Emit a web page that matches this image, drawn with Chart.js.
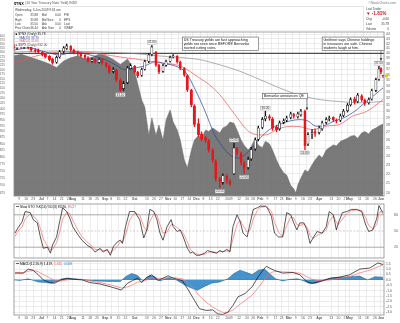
<!DOCTYPE html>
<html>
<head>
    <title>$TNX</title>
    <meta charset="UTF-8">
    <style>
        body { margin: 0; background: #ffffff; }
        .chart-stack { position: relative; width: 400px; height: 323px; }
        .chart-stack canvas { position: absolute; left: 0; }
    </style>
    <script src="https://cdn.jsdelivr.net/npm/chart.js"></script>
</head>
<body>
<div class="chart-stack">
    <canvas id="priceChart" width="400" height="203" style="top:0px"></canvas>
    <canvas id="stoChart" width="400" height="57" style="top:203px"></canvas>
    <canvas id="macdChart" width="400" height="63" style="top:260px"></canvas>
</div>
<script>
// all days are calendar days counted from 2-Jun-2008
const tickDays = [7, 14, 21, 29, 35, 42, 49, 56, 60, 70, 77, 84, 92, 98, 105, 112, 121, 133, 140, 147, 154, 161, 168, 175, 182, 189, 196, 203, 214, 224, 232, 238, 245, 252, 260, 266, 273, 280, 287, 294, 303, 315, 322, 329, 333, 343, 350, 358, 364];
const tickLabels = ['9', '16', '23', 'Jul', '7', '14', '21', '28', 'Aug', '11', '18', '25', 'Sep', '8', '15', '22', 'Oct', '13', '20', '27', 'Nov', '10', '17', '24', 'Dec', '8', '15', '22', '2009', '12', '20', '26', 'Feb', '9', '17', '23', 'Mar', '9', '16', '23', 'Apr', '13', '20', '27', 'May', '11', '18', '26', 'Jun'];

// $TNX candles (yield x 10)
const candleDays = [2, 5, 9, 12, 16, 19, 23, 26, 30, 33, 37, 40, 44, 47, 51, 54, 58, 61, 65, 68, 72, 75, 79, 82, 86, 89, 93, 96, 100, 103, 107, 110, 114, 117, 121, 124, 128, 131, 135, 138, 142, 145, 149, 152, 156, 159, 163, 166, 170, 173, 177, 180, 184, 187, 191, 194, 198, 201, 205, 208, 212, 215, 219, 222, 226, 229, 233, 236, 240, 243, 247, 250, 254, 257, 261, 264, 268, 271, 275, 278, 282, 285, 289, 292, 296, 299, 303, 306, 310, 313, 317, 320, 324, 327, 331, 334, 338, 341, 345, 348, 352, 355, 359, 362, 364, 366];
const candleOpen = [41.5, 41.1, 41.6, 41.2, 41.8, 41.2, 40.6, 40.6, 40.2, 39.8, 39.4, 38.9, 38.3, 39.3, 40.4, 41.0, 41.4, 40.6, 40.2, 39.8, 39.6, 39.1, 38.5, 38.9, 38.3, 38.9, 38.1, 37.5, 36.6, 36.8, 35.0, 33.6, 34.6, 37.1, 37.5, 36.4, 35.9, 37.0, 38.5, 39.8, 40.2, 37.7, 36.6, 37.7, 38.5, 39.3, 39.4, 38.3, 37.1, 35.8, 33.3, 30.8, 28.2, 26.8, 26.3, 25.9, 24.7, 23.4, 21.4, 21.1, 21.7, 21.2, 22.0, 24.9, 24.3, 23.2, 22.7, 23.7, 24.9, 26.1, 27.7, 28.9, 29.2, 28.9, 27.7, 27.5, 28.4, 28.7, 29.1, 29.5, 29.2, 29.5, 30.0, 25.5, 26.8, 27.1, 27.0, 27.5, 28.4, 28.9, 29.1, 28.7, 28.7, 29.4, 30.1, 31.0, 31.9, 31.5, 32.4, 31.7, 31.3, 31.9, 33.3, 35.2, 37.1, 35.88];
const candleHigh = [41.8, 41.9, 42.0, 42.1, 42.0, 41.4, 41.0, 40.9, 40.4, 40.0, 39.6, 39.1, 39.5, 40.6, 41.4, 41.9, 41.6, 40.9, 40.5, 40.1, 39.8, 39.4, 39.1, 39.0, 39.0, 39.0, 38.3, 37.8, 37.3, 37.0, 35.3, 34.8, 37.5, 38.0, 37.7, 36.6, 37.2, 38.7, 40.0, 41.6, 40.4, 37.9, 37.9, 38.7, 39.5, 39.8, 39.6, 38.5, 37.3, 36.0, 33.5, 31.0, 28.9, 27.1, 26.5, 26.1, 24.9, 23.6, 21.6, 22.0, 21.9, 21.4, 25.6, 25.1, 24.5, 23.4, 23.9, 25.1, 26.3, 27.9, 29.1, 30.0, 29.5, 29.1, 28.0, 28.6, 28.9, 29.3, 29.9, 29.7, 29.9, 30.3, 30.2, 27.0, 27.4, 27.5, 27.9, 28.6, 29.1, 29.3, 29.2, 28.9, 29.6, 30.3, 31.2, 32.1, 32.2, 32.8, 32.6, 31.9, 32.1, 33.5, 35.4, 37.5, 37.3, 35.88];
const candleLow = [40.9, 40.8, 41.0, 41.0, 40.9, 40.4, 40.2, 40.0, 39.5, 39.1, 38.5, 37.9, 38.1, 39.1, 40.1, 40.8, 40.4, 39.9, 39.6, 39.2, 38.9, 38.3, 38.3, 38.1, 38.1, 37.9, 37.3, 36.2, 36.3, 34.8, 33.1, 33.3, 34.4, 37.0, 36.2, 35.5, 35.7, 36.8, 38.2, 39.5, 37.5, 36.2, 36.4, 37.5, 38.3, 39.1, 38.1, 36.9, 35.7, 33.1, 30.7, 27.8, 26.5, 25.9, 25.7, 24.5, 23.3, 21.2, 20.5, 20.9, 21.0, 20.8, 21.9, 24.1, 23.0, 22.0, 22.5, 23.5, 24.7, 25.9, 27.5, 28.6, 28.7, 27.3, 27.1, 27.3, 28.2, 28.5, 28.9, 29.0, 29.0, 29.3, 24.8, 25.3, 26.2, 26.5, 26.8, 27.3, 28.2, 28.6, 28.5, 28.3, 28.5, 29.2, 29.9, 30.8, 31.1, 31.3, 31.5, 30.9, 31.1, 31.7, 33.1, 35.0, 36.2, 35.50];
const candleClose = [41.1, 41.5, 41.3, 41.7, 41.1, 40.7, 40.5, 40.3, 39.7, 39.3, 38.8, 38.2, 39.2, 40.3, 41.1, 41.5, 40.7, 40.1, 39.9, 39.5, 39.2, 38.6, 38.8, 38.4, 38.8, 38.2, 37.6, 36.5, 36.9, 35.1, 33.4, 34.4, 37.2, 37.6, 36.5, 35.8, 36.9, 38.4, 39.7, 41.3, 37.8, 36.5, 37.6, 38.4, 39.2, 39.5, 38.4, 37.2, 36.0, 33.4, 31.0, 28.1, 26.7, 26.2, 26.0, 24.8, 23.6, 21.5, 21.2, 21.8, 21.3, 20.9, 25.0, 24.4, 23.3, 22.6, 23.6, 24.8, 26.0, 27.6, 28.8, 29.3, 29.0, 27.6, 27.4, 28.3, 28.6, 29.0, 29.6, 29.3, 29.6, 30.0, 25.3, 26.7, 27.0, 26.9, 27.6, 28.3, 28.8, 29.0, 28.8, 28.6, 29.3, 30.0, 30.9, 31.8, 31.4, 32.5, 31.8, 31.2, 31.8, 33.2, 35.1, 37.0, 36.5, 35.78];

// moving averages
const ma20Days = [2, 18, 33, 47, 62, 77, 92, 102, 111, 121, 131, 141, 151, 161, 171, 180, 190, 200, 210, 217, 225, 235, 245, 254, 264, 274, 284, 292, 299, 309, 318, 328, 338, 348, 358, 366];
const ma20Vals = [40.7, 41.1, 40.3, 39.7, 40.3, 39.7, 38.8, 37.8, 36.9, 37.2, 37.6, 38.4, 38.0, 37.6, 36.5, 33.7, 30.2, 26.7, 24.8, 24.0, 23.8, 24.8, 26.3, 27.4, 28.1, 28.6, 28.8, 28.6, 27.9, 28.0, 28.6, 29.1, 30.0, 31.3, 32.6, 33.7];
const ma50Days = [2, 18, 33, 47, 67, 87, 107, 126, 146, 166, 185, 195, 205, 218, 235, 251, 261, 271, 284, 297, 311, 323, 336, 350, 366];
const ma50Vals = [38.2, 39.2, 39.9, 40.3, 40.3, 39.9, 39.3, 38.8, 38.2, 37.6, 35.4, 34.2, 32.6, 29.9, 27.0, 26.7, 27.4, 27.8, 27.8, 27.4, 27.9, 28.1, 29.3, 30.0, 31.8];
const ma200Days = [2, 47, 87, 126, 146, 166, 185, 205, 225, 245, 264, 284, 304, 323, 343, 366];
const ma200Vals = [40.3, 40.5, 40.3, 39.9, 39.5, 39.2, 38.8, 37.8, 36.6, 35.1, 33.7, 32.5, 31.8, 31.5, 31.3, 31.5];
const refLevel = 40;

// $SPX overlay (left scale)
const spxDays = [2, 9, 16, 23, 30, 37, 44, 51, 58, 65, 72, 79, 86, 93, 100, 107, 114, 121, 128, 131, 135, 138, 142, 145, 149, 152, 156, 159, 163, 166, 170, 173, 177, 180, 184, 187, 191, 194, 198, 201, 205, 208, 212, 215, 219, 222, 226, 229, 233, 236, 240, 243, 247, 250, 254, 257, 261, 264, 268, 271, 275, 278, 280, 282, 285, 289, 292, 296, 299, 303, 306, 310, 313, 317, 320, 324, 327, 331, 334, 338, 341, 345, 348, 352, 355, 359, 362, 366];
const spxVals = [1280, 1290, 1276, 1262, 1248, 1232, 1212, 1250, 1268, 1280, 1262, 1272, 1290, 1280, 1258, 1230, 1262, 1190, 1042, 1009, 884, 959, 884, 928, 865, 950, 995, 941, 907, 865, 789, 760, 826, 865, 884, 872, 907, 900, 915, 907, 894, 915, 924, 941, 935, 907, 865, 845, 826, 840, 872, 845, 835, 860, 850, 826, 789, 765, 743, 735, 700, 690, 676, 702, 725, 753, 746, 771, 789, 807, 796, 826, 835, 846, 842, 860, 865, 872, 881, 884, 872, 894, 900, 890, 907, 915, 924, 932];

const yieldTicks = [20, 21, 22, 23, 24, 25, 26, 27, 28, 29, 30, 31, 32, 33, 34, 35, 36, 37, 38, 39, 40, 41, 42, 43, 44];
const spxTicks = [675, 700, 725, 750, 775, 800, 825, 850, 875, 900, 925, 950, 975, 1000, 1025, 1050, 1075, 1100, 1125, 1150, 1175, 1200, 1225, 1250, 1275, 1300, 1325, 1350, 1375, 1400];

// slow stochastics
const stoDays = [3, 6, 10, 13, 18, 21, 25, 28, 31, 35, 38, 40, 44, 47, 50, 54, 57, 60, 65, 69, 74, 79, 82, 87, 90, 94, 97, 100, 104, 107, 109, 112, 116, 121, 126, 130, 133, 136, 140, 143, 146, 149, 153, 157, 159, 163, 166, 169, 173, 176, 178, 182, 185, 190, 193, 197, 202, 205, 208, 212, 215, 218, 222, 225, 228, 232, 235, 238, 242, 245, 250, 252, 256, 259, 263, 267, 271, 275, 278, 281, 284, 288, 291, 294, 297, 301, 306, 310, 313, 317, 320, 322, 326, 330, 335, 340, 345, 349, 352, 356, 360, 362, 364, 366];
const stoK = [46, 56, 67, 86, 84, 71, 65, 39, 18, 20, 9, 24, 39, 67, 93, 86, 74, 58, 43, 33, 24, 18, 11, 18, 11, 16, 5, 21, 30, 33, 27, 58, 86, 86, 71, 37, 52, 90, 86, 71, 46, 33, 58, 71, 58, 49, 52, 39, 18, 9, 11, 5, 5, 9, 14, 11, 9, 14, 11, 16, 11, 58, 80, 68, 46, 39, 65, 90, 93, 96, 96, 93, 77, 46, 39, 39, 84, 80, 65, 52, 65, 65, 52, 27, 37, 49, 46, 58, 86, 80, 52, 65, 84, 86, 90, 90, 86, 61, 49, 52, 74, 97, 90, 83.9];
const stoD = [40, 50, 58, 72, 82, 78, 70, 55, 35, 22, 15, 16, 28, 48, 72, 85, 82, 70, 52, 40, 30, 22, 16, 15, 14, 14, 10, 14, 22, 30, 30, 42, 70, 84, 80, 58, 50, 68, 82, 80, 62, 46, 48, 62, 62, 56, 52, 46, 30, 16, 12, 8, 6, 7, 10, 12, 10, 12, 12, 13, 13, 35, 62, 70, 60, 48, 52, 72, 88, 94, 95, 94, 86, 66, 48, 40, 60, 76, 74, 62, 60, 63, 58, 42, 36, 42, 46, 52, 68, 78, 66, 62, 72, 82, 88, 89, 88, 74, 60, 54, 62, 82, 87, 80.27];
const stoLevels = [20, 50, 80];

// MACD(12,26,9)
const macdDays = [3, 11, 16, 21, 26, 31, 37, 42, 47, 54, 60, 69, 77, 87, 97, 108, 114, 119, 124, 128, 133, 138, 144, 149, 154, 159, 168, 174, 180, 185, 192, 198, 203, 208, 213, 218, 223, 230, 237, 243, 248, 251, 254, 259, 267, 277, 284, 291, 296, 304, 314, 323, 333, 343, 353, 361, 366];
const macdLine = [0.63, 0.63, 1.0, 0.88, 0.47, 0.0, -0.25, -0.31, -0.06, 0.16, 0.06, 0.0, -0.25, -0.38, -0.63, -0.94, -0.31, -0.06, 0.16, -0.25, 0.25, 0.47, -0.06, 0.16, 0.38, 0.16, -0.06, -0.94, -1.89, -2.67, -2.83, -2.77, -3.15, -3.2, -2.99, -2.36, -1.57, -1.26, -0.63, 0.31, 0.94, 1.26, 1.1, 0.88, 0.63, 0.69, 0.47, -0.16, -0.31, -0.16, 0.16, 0.25, 0.47, 1.0, 1.1, 1.57, 1.42];
const macdSignal = [0.7, 0.65, 0.8, 0.88, 0.75, 0.5, 0.2, -0.05, -0.12, 0.0, 0.05, 0.05, -0.1, -0.25, -0.45, -0.75, -0.65, -0.45, -0.2, -0.15, 0.0, 0.2, 0.15, 0.12, 0.22, 0.22, 0.1, -0.3, -0.9, -1.5, -2.1, -2.5, -2.8, -3.0, -3.0, -2.8, -2.4, -1.9, -1.4, -0.7, -0.1, 0.3, 0.6, 0.8, 0.75, 0.7, 0.62, 0.3, 0.05, -0.1, 0.0, 0.15, 0.3, 0.65, 0.9, 1.2, 1.41];
const histDays = [2, 8, 16, 26, 33, 39, 44, 49, 57, 67, 82, 97, 107, 112, 118, 124, 129, 136, 141, 146, 154, 162, 171, 178, 183, 190, 197, 205, 213, 219, 225, 231, 237, 243, 249, 254, 260, 267, 274, 282, 288, 294, 300, 306, 314, 323, 333, 343, 351, 358, 366];
const histVals = [0.0, -0.05, 0.1, -0.2, -0.25, -0.3, -0.15, 0.1, 0.15, 0.05, -0.1, -0.15, -0.15, 0.3, 0.6, 0.4, -0.1, 0.4, 0.3, -0.1, 0.2, 0.0, -0.5, -0.8, -0.95, -0.6, -0.3, -0.2, 0.1, 0.6, 0.9, 0.7, 0.5, 0.9, 1.0, 0.6, 0.1, -0.1, 0.05, 0.1, -0.1, -0.35, -0.3, -0.05, 0.15, 0.25, 0.3, 0.35, 0.0, 0.3, 0.25];
const macdTicks = [-3.0, -2.5, -2.0, -1.5, -1.0, -0.5, 0.0, 0.5, 1.0, 1.5];

// quote header
const quoteStamp = 'Wednesday, 3-Jun-2009 9:34 am';
const quoteRows = [
    ['Open', '35.88', 'Bid', '0.00', 'P/E'],
    ['High', '35.88', 'Bid Size', '0', 'EPS'],
    ['Low', '35.50', 'Ask', '0.00', 'Last'],
    ['Prev Close', '36.44', 'Ask Size', '0', 'VWAP']
];
const lastTrade = [['Chg', '-0.66'], ['Last', '35.78'], ['Volume', '0']];

// labelled highs / lows (candle index, above?)
const markIdx = [30, 39, 58, 62, 65, 71, 82, 103];
const markAbove = [false, true, false, true, false, true, false, true];

const notes = [
    { day: 168, level: 43.4, w: 76, lines: ['US Treasury yields are fast approaching', 'yields not seen since BEFORE Bernanke', 'started cutting rates.'] },
    { day: 306, level: 43.4, w: 62, lines: ['Geithner says Chinese holdings', 'in treasuries are safe. Chinese', 'students laugh at him.'], arrowDay: 364, arrowTo: 38.6 },
    { day: 247, level: 32.8, w: 45, lines: ['Bernanke announces QE'], arrowDay: 291, arrowTo: 30.2 }
];

const FONT = '"Liberation Sans", Arial, sans-serif';
const xMin = 2, xMax = 367;

Chart.defaults.font.family = FONT;
Chart.defaults.font.size = 3.4;
Chart.defaults.color = '#555';
Chart.defaults.animation = false;
Chart.defaults.plugins.legend.display = false;
Chart.defaults.plugins.tooltip.enabled = false;

function pts(days, vals) {
    return days.map((d, i) => ({ x: d, y: vals[i] }));
}

function candleColor(i) {
    const prev = i > 0 ? candleClose[i - 1] : candleOpen[i];
    return candleClose[i] < prev ? '#e8161b' : '#111111';
}

function dateAxis(labelHeight) {
    return {
        type: 'linear', min: xMin, max: xMax, offset: false,
        afterBuildTicks: s => { s.ticks = tickDays.map(v => ({ value: v })); },
        ticks: {
            display: labelHeight > 0, autoSkip: false, maxRotation: 0, padding: 1.5,
            font: c => ({ family: FONT, size: 3.4, weight: /^\d+$/.test(tickLabels[c.index]) ? 'normal' : 'bold' }),
            callback: (v, i) => tickLabels[i]
        },
        grid: { color: '#e1e1e1', lineWidth: 0.6, drawTicks: false },
        border: { display: false },
        afterFit: s => { s.height = labelHeight; s.paddingLeft = 0; s.paddingRight = 0; }
    };
}

function rightAxis(extra) {
    return Object.assign({
        position: 'right',
        ticks: { autoSkip: false, padding: 2 },
        grid: { color: '#e1e1e1', lineWidth: 0.6, drawTicks: false },
        border: { display: false },
        afterFit: s => { s.width = 16; s.paddingTop = 0; s.paddingBottom = 0; }
    }, extra);
}

function drawText(ctx, parts, x, y) {
    parts.forEach(p => {
        ctx.fillStyle = p[1];
        ctx.fillText(p[0], x, y);
        x += ctx.measureText(p[0]).width;
    });
}

function panelFrame(legendParts) {
    return {
        id: 'panelFrame',
        afterDraw(chart) {
            const { ctx, chartArea: a } = chart;
            ctx.save();
            ctx.strokeStyle = '#8c8c8c';
            ctx.lineWidth = 0.8;
            ctx.strokeRect(a.left, a.top, a.right - a.left, a.bottom - a.top);
            if (legendParts) {
                ctx.font = '3.3px ' + FONT;
                ctx.textBaseline = 'middle';
                ctx.fillStyle = '#000';
                ctx.fillRect(a.left + 2, a.top + 2.3, 3, 0.6);
                drawText(ctx, legendParts, a.left + 6, a.top + 2.6);
            }
            ctx.restore();
        }
    };
}

const priceDecor = {
    id: 'priceDecor',
    afterDraw(chart) {
        const { ctx, chartArea: a, scales } = chart;
        const xs = scales.x, ys = scales.y;
        ctx.save();
        ctx.textBaseline = 'middle';

        // title line
        ctx.font = 'bold 3.8px ' + FONT;
        ctx.fillStyle = '#000';
        ctx.fillText('$TNX', 14, 3.5);
        const tw = ctx.measureText('$TNX').width + 1.5;
        ctx.font = '3.3px ' + FONT;
        ctx.fillStyle = '#555';
        ctx.fillText('(10 Year Treasury Note Yield) INDX', 14 + tw, 3.5);
        ctx.textAlign = 'right';
        ctx.fillStyle = '#777';
        ctx.fillText('\u00A9StockCharts.com', 396, 3.5);

        // quote box
        ctx.strokeStyle = '#d4d4d4';
        ctx.lineWidth = 0.6;
        ctx.strokeRect(13.5, 6.5, 350, 24.5);
        ctx.fillStyle = '#444';
        ctx.textAlign = 'left';
        ctx.font = '3.1px ' + FONT;
        ctx.fillText(quoteStamp, 15, 10.5);
        quoteRows.forEach((r, i) => {
            const y = 15.4 + i * 4.3;
            ctx.textAlign = 'left';
            ctx.fillText(r[0], 15, y);
            ctx.fillText(r[2], 42, y);
            ctx.fillText(r[4], 64, y);
            ctx.textAlign = 'right';
            ctx.fillText(r[1], 38, y);
            ctx.fillText(r[3], 61, y);
        });

        // last trade block
        ctx.textAlign = 'left';
        ctx.fillText('Last Trade:', 366, 9);
        ctx.font = 'bold 4.6px ' + FONT;
        ctx.fillStyle = '#d0101a';
        ctx.fillText('\u25BC -1.81%', 366, 14);
        ctx.font = '3.1px ' + FONT;
        ctx.fillStyle = '#444';
        lastTrade.forEach((r, i) => {
            const y = 19.5 + i * 4.6;
            ctx.textAlign = 'left';
            ctx.fillText(r[0], 366, y);
            ctx.textAlign = 'right';
            ctx.fillText(r[1], 389, y);
        });

        // legend
        ctx.textAlign = 'left';
        ctx.font = '3.2px ' + FONT;
        const last = candleClose.length - 1;
        const legend = [
            ['\u25A0', '#000', '$TNX (Daily) ' + candleClose[last].toFixed(2), '#000'],
            ['\u2014', '#2b3f9e', 'MA(20) ' + ma20Vals[ma20Vals.length - 1].toFixed(2), '#2b3f9e'],
            ['\u2014', '#ef5350', 'MA(50) ' + ma50Vals[ma50Vals.length - 1].toFixed(2), '#ef5350'],
            ['\u25A0', '#777', '$SPX (Daily) ' + spxVals[spxVals.length - 1].toFixed(2), '#444']
        ];
        legend.forEach((l, i) => {
            const y = a.top + 2.4 + i * 3.6;
            ctx.fillStyle = '#ffffff';
            ctx.fillRect(a.left + 1, y - 1.7, ctx.measureText(l[0] + ' ' + l[2]).width + 1, 3.4);
            drawText(ctx, [[l[0] + ' ', l[1]], [l[2], l[3]]], a.left + 1.5, y);
        });

        // labelled highs and lows
        ctx.font = '3.1px ' + FONT;
        ctx.textAlign = 'center';
        markIdx.forEach((k, i) => {
            const val = markAbove[i] ? candleHigh[k] : candleLow[k];
            const txt = val.toFixed(2);
            const px = xs.getPixelForValue(candleDays[k]);
            const py = ys.getPixelForValue(val) + (markAbove[i] ? -3.2 : 3.2);
            const w = ctx.measureText(txt).width + 1.6;
            ctx.fillStyle = '#f4f4f4';
            ctx.fillRect(px - w / 2, py - 1.9, w, 3.8);
            ctx.strokeStyle = '#9a9a9a';
            ctx.lineWidth = 0.4;
            ctx.strokeRect(px - w / 2, py - 1.9, w, 3.8);
            ctx.fillStyle = '#444';
            ctx.fillText(txt, px, py);
        });

        // note boxes
        ctx.textAlign = 'left';
        ctx.font = '3.6px ' + FONT;
        notes.forEach(n => {
            const bx = xs.getPixelForValue(n.day);
            const by = ys.getPixelForValue(n.level);
            const h = n.lines.length * 4 + 1.4;
            ctx.fillStyle = '#ffffff';
            ctx.fillRect(bx, by, n.w, h);
            ctx.strokeStyle = '#555';
            ctx.lineWidth = 0.6;
            ctx.strokeRect(bx, by, n.w, h);
            ctx.fillStyle = '#111';
            n.lines.forEach((t, j) => ctx.fillText(t, bx + 1.4, by + 2.7 + j * 4));
            if (n.arrowDay !== undefined) {
                const ax = xs.getPixelForValue(n.arrowDay);
                const ay = ys.getPixelForValue(n.arrowTo);
                ctx.strokeStyle = '#333';
                ctx.beginPath();
                ctx.moveTo(ax, by + h);
                ctx.lineTo(ax, ay);
                ctx.stroke();
                ctx.fillStyle = '#333';
                ctx.beginPath();
                ctx.moveTo(ax - 1.3, ay - 2.5);
                ctx.lineTo(ax + 1.3, ay - 2.5);
                ctx.lineTo(ax, ay);
                ctx.closePath();
                ctx.fill();
            }
        });

        // current value marker
        const cy = ys.getPixelForValue(candleClose[last]);
        ctx.fillStyle = '#f2c200';
        ctx.fillRect(a.right + 1, cy - 1.5, 3, 3);
        ctx.restore();
    }
};

new Chart(document.getElementById('priceChart'), {
    type: 'bar',
    data: {
        datasets: [
            {
                type: 'bar', label: 'body', yAxisID: 'y', grouped: false, order: 0,
                data: candleDays.map((d, i) => ({ x: d, y: [Math.min(candleOpen[i], candleClose[i]), Math.max(candleOpen[i], candleClose[i]) + 0.02] })),
                barThickness: 2.2, borderWidth: 0.6, borderSkipped: false,
                backgroundColor: c => candleClose[c.dataIndex] >= candleOpen[c.dataIndex] ? '#ffffff' : candleColor(c.dataIndex),
                borderColor: c => candleColor(c.dataIndex)
            },
            {
                type: 'bar', label: 'wick', yAxisID: 'y', grouped: false, order: 1,
                data: candleDays.map((d, i) => ({ x: d, y: [candleLow[i], candleHigh[i]] })),
                barThickness: 0.7, borderWidth: 0,
                backgroundColor: c => candleColor(c.dataIndex)
            },
            { type: 'line', label: 'MA(20)', yAxisID: 'y', order: 2, data: pts(ma20Days, ma20Vals), borderColor: '#2b3f9e', borderWidth: 0.7, pointRadius: 0, tension: 0.3 },
            { type: 'line', label: 'MA(50)', yAxisID: 'y', order: 2, data: pts(ma50Days, ma50Vals), borderColor: '#ef5350', borderWidth: 0.7, pointRadius: 0, tension: 0.3 },
            { type: 'line', label: 'MA(200)', yAxisID: 'y', order: 2, data: pts(ma200Days, ma200Vals), borderColor: '#8d8d8d', borderWidth: 0.7, pointRadius: 0, tension: 0.3 },
            { type: 'line', label: 'level', yAxisID: 'y', order: 3, data: [{ x: xMin, y: refLevel }, { x: xMax, y: refLevel }], borderColor: '#4d4d4d', borderWidth: 1.3, pointRadius: 0 },
            {
                type: 'line', label: '$SPX', yAxisID: 'ys', order: 5, data: pts(spxDays, spxVals),
                fill: 'start', backgroundColor: 'rgba(100,100,100,0.86)', borderColor: '#6a6a6a', borderWidth: 0.5, pointRadius: 0
            }
        ]
    },
    options: {
        responsive: false,
        layout: { padding: { top: 32, left: 0, right: 0, bottom: 0 } },
        scales: {
            x: dateAxis(7),
            y: rightAxis({
                type: 'logarithmic', min: 19.7, max: 44.5,
                afterBuildTicks: s => { s.ticks = yieldTicks.map(v => ({ value: v })); },
                ticks: { autoSkip: false, padding: 2, callback: v => String(v) }
            }),
            ys: {
                type: 'logarithmic', position: 'left', min: 667, max: 1430,
                afterBuildTicks: s => { s.ticks = spxTicks.map(v => ({ value: v })); },
                ticks: { autoSkip: false, padding: 1, color: '#666', font: { size: 3.1 }, callback: v => String(v) },
                grid: { display: false },
                border: { display: false },
                afterFit: s => { s.width = 14; s.paddingTop = 0; s.paddingBottom = 0; }
            }
        }
    },
    plugins: [panelFrame(null), priceDecor]
});

new Chart(document.getElementById('stoChart'), {
    type: 'line',
    data: {
        datasets: [
            { data: pts(stoDays, stoK), borderColor: '#111', borderWidth: 0.7, pointRadius: 0 },
            { data: pts(stoDays, stoD), borderColor: '#ff6b6b', borderWidth: 0.7, pointRadius: 0 }
        ].concat(stoLevels.map(v => ({
            data: [{ x: xMin, y: v }, { x: xMax, y: v }],
            borderColor: v === 50 ? '#b0b0b0' : '#a8a8a8',
            borderDash: v === 50 ? [2, 1.5] : [],
            borderWidth: v === 50 ? 0.6 : 1, pointRadius: 0, order: 5
        })))
    },
    options: {
        responsive: false,
        layout: { padding: { top: 1, left: 14, right: 0, bottom: 2 } },
        scales: {
            x: dateAxis(0),
            y: rightAxis({
                min: 0, max: 100,
                afterBuildTicks: s => { s.ticks = stoLevels.map(v => ({ value: v })); },
                grid: { display: false },
                ticks: { autoSkip: false, padding: 2, callback: v => String(v) }
            })
        }
    },
    plugins: [panelFrame([['Slow STO %K(14) %D(3) 83.90, ', '#000'], ['80.27', '#ff4d4d']])]
});

new Chart(document.getElementById('macdChart'), {
    type: 'line',
    data: {
        datasets: [
            { data: pts(macdDays, macdLine), borderColor: '#111', borderWidth: 0.7, pointRadius: 0, order: 0 },
            { data: pts(macdDays, macdSignal), borderColor: '#ff6b6b', borderWidth: 0.7, pointRadius: 0, order: 1 },
            { data: pts(histDays, histVals), fill: 'origin', backgroundColor: 'rgba(38,128,196,0.85)', borderColor: '#1d5e96', borderWidth: 0.5, pointRadius: 0, order: 2 }
        ]
    },
    options: {
        responsive: false,
        layout: { padding: { top: 1, left: 14, right: 0, bottom: 0 } },
        scales: {
            x: dateAxis(8),
            y: rightAxis({
                min: -3.25, max: 1.75,
                afterBuildTicks: s => { s.ticks = macdTicks.map(v => ({ value: v })); },
                grid: { color: c => c.tick && c.tick.value === 0 ? '#a0a0a0' : '#e1e1e1', lineWidth: 0.6, drawTicks: false },
                ticks: { autoSkip: false, padding: 2, callback: v => v.toFixed(1) }
            })
        }
    },
    plugins: [panelFrame([['MACD(12,26,9) 1.419, ', '#000'], ['1.411', '#ff4d4d'], [', 0.008', '#2680c4']])]
});
</script>
</body>
</html>
